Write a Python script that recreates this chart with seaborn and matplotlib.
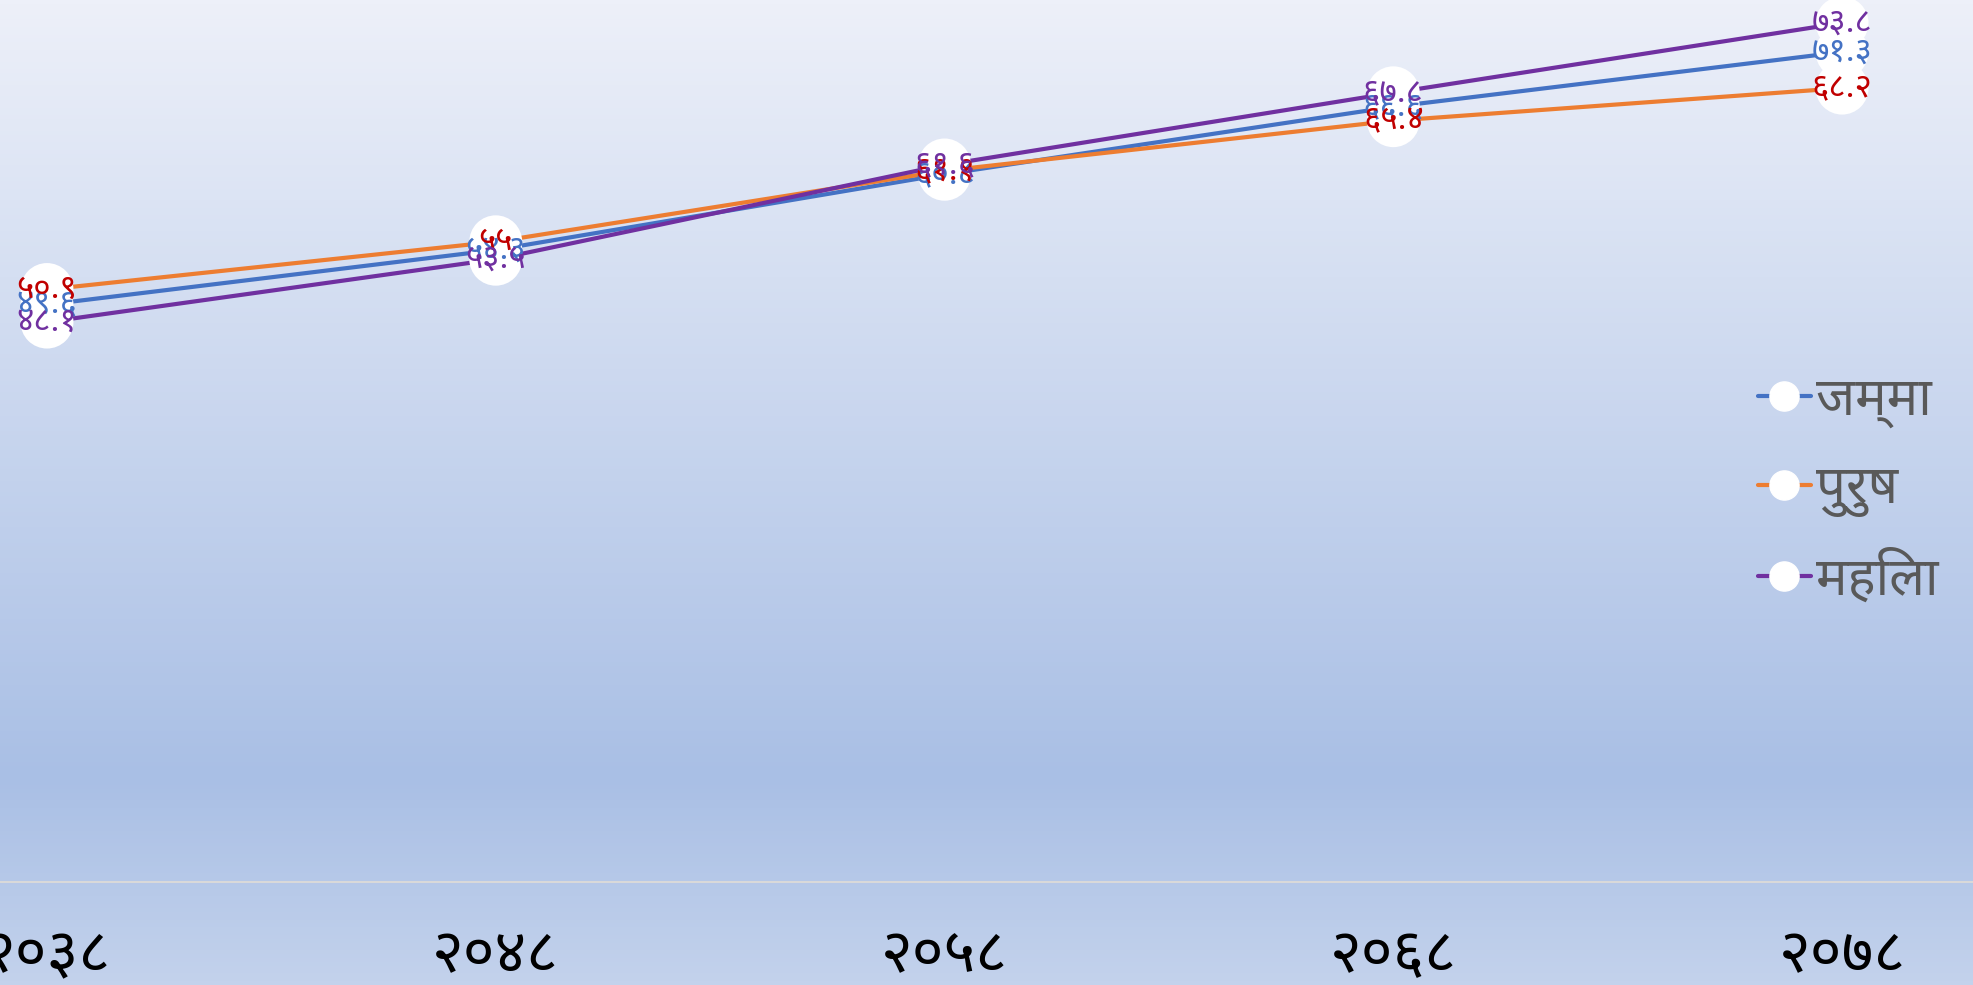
import numpy as np
import pandas as pd
import matplotlib
matplotlib.use("Agg")
import matplotlib.pyplot as plt
import seaborn as sns
from matplotlib import font_manager
from matplotlib.ft2font import FT2Font
from matplotlib.lines import Line2D
from matplotlib.colors import LinearSegmentedColormap

# Data
years = ["२०३८", "२०४८", "२०५८", "२०६८", "२०७८"]
series_names = ["जम्मा", "पुरुष", "महिला"]
total = [49.6, 54.3, 60.8, 66.6, 71.3]
male = [50.9, 55.0, 61.1, 65.4, 68.2]
female = [48.1, 53.5, 61.6, 67.8, 73.8]

line_colors = ["#4472C4", "#ED7D31", "#7030A0"]
label_colors = ["#4472C4", "#C00000", "#7030A0"]


# All installed fonts that have Devanagari glyphs
def devanagari_fonts():
    names = []
    for f in font_manager.fontManager.ttflist:
        try:
            ft = FT2Font(f.fname)
            if ft.get_char_index(0x0915) and ft.get_char_index(0x0967):
                if f.name not in names:
                    names.append(f.name)
        except Exception:
            pass
    return names


def pick_font(names):
    preferred = ["Noto Sans Devanagari", "Mukta", "Hind", "Lohit Devanagari",
                 "FreeSans"]
    for p in preferred:
        if p in names:
            return p
    for n in names:
        low = n.lower()
        if "mono" not in low and "unifont" not in low:
            return n
    return names[0] if names else None


# Turn 55.0 -> "५५", 50.9 -> "५०.९"
def to_nepali(v):
    s = f"{v:.1f}"
    if s.endswith(".0"):
        s = s[:-2]
    return s.translate(str.maketrans("0123456789", "०१२३४५६७८९"))


sns.set_style("white")
deva = pick_font(devanagari_fonts())
families = [deva, "DejaVu Sans"] if deva else ["DejaVu Sans"]
plt.rcParams["font.family"] = families

df = pd.DataFrame({
    "x": list(range(len(years))) * 3,
    "value": total + male + female,
    "series": [n for n in series_names for _ in years],
})

fig = plt.figure(figsize=(19.74, 9.85), dpi=100)

# gradient background
bg = fig.add_axes([0, 0, 1, 1], zorder=0)
cmap = LinearSegmentedColormap.from_list(
    "bg",
    [(0.0, "#EDF0F9"), (0.2, "#DCE4F4"), (0.79, "#A9BFE5"), (1.0, "#C3D2EC")],
)
bg.imshow(np.linspace(0, 1, 256).reshape(-1, 1), aspect="auto", cmap=cmap,
          extent=[0, 1, 0, 1], origin="upper")
bg.axis("off")

ax = fig.add_axes([0, 103 / 985, 1, 1 - 103 / 985], zorder=1)
ax.set_facecolor("none")

sns.lineplot(data=df, x="x", y="value", hue="series", hue_order=series_names,
             palette=line_colors, linewidth=3, legend=False, ax=ax, zorder=2)
sns.scatterplot(data=df, x="x", y="value", color="white", s=1450,
                edgecolor="none", legend=False, ax=ax, zorder=3)

for vals, col in zip([total, male, female], label_colors):
    for i, v in enumerate(vals):
        ax.text(i, v, to_nepali(v), color=col, fontsize=24,
                ha="center", va="center", zorder=4)

ax.set_xlim(-0.1047, 4.294)
ax.set_ylim(0, 75.77)
ax.set_xticks(range(len(years)))
ax.set_xticklabels(years, fontsize=44, color="black")
ax.tick_params(axis="x", length=0, pad=32)
ax.set_yticks([])
ax.set_xlabel("")
ax.set_ylabel("")
for side in ["top", "left", "right"]:
    ax.spines[side].set_visible(False)
ax.spines["bottom"].set_color("#D9D9D9")
ax.spines["bottom"].set_linewidth(1.5)

handles = [
    Line2D([0], [0], color=c, lw=3, marker="o", markersize=21,
           markerfacecolor="white", markeredgecolor="white")
    for c in line_colors
]
fig.legend(handles, series_names, loc="center left",
           bbox_to_anchor=(0.8665, 0.5015), frameon=False, fontsize=38,
           labelcolor="#595959", handlelength=1.0, handletextpad=0.1,
           labelspacing=0.67)

fig.savefig("out.png", dpi=100)
